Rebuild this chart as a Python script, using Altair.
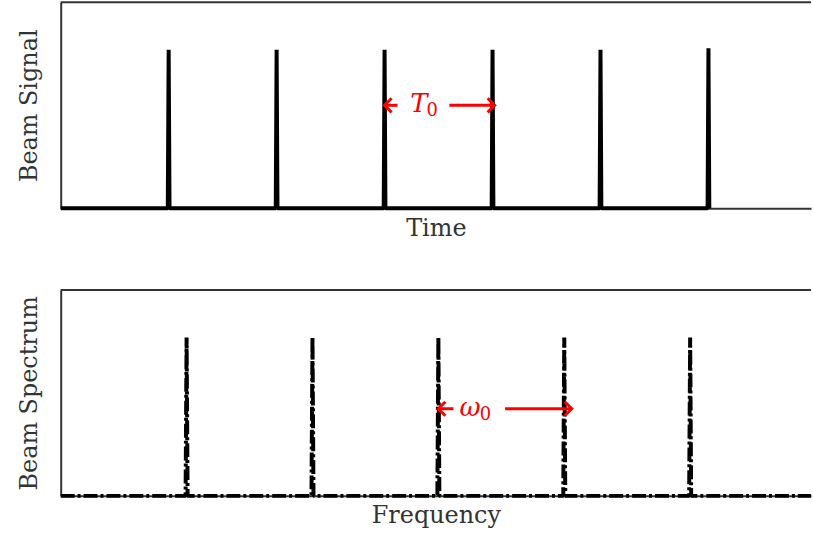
import altair as alt
import pandas as pd

# Beam signal: a train of short pulses, one per revolution
pulse_times = [1, 2, 3, 4, 5, 6]
pulse_heights = [1.0, 1.0, 1.0, 1.0, 1.0, 1.01]

# Beam spectrum: lines at the harmonics of the revolution frequency
harmonic_freqs = [1, 2, 3, 4, 5]
harmonic_heights = [1.0, 1.0, 1.0, 1.0, 1.0]
freq_end = 5.96

PEAK_HALF_WIDTH = 0.008

# period / frequency annotations (data coordinates)
t_arrow_y = 0.65
t_arrow_left = [3.0, 3.12]
t_arrow_right = [3.60, 4.02]
t_label_x = 3.38

w_arrow_y = 0.55
w_arrow_left = [3.0, 3.12]
w_arrow_right = [3.53, 4.06]
w_label_x = 3.32

W, H = 754, 207
RED = "#ff0000"
FONT = "DejaVu Serif"


def peak_line(centers, heights, end=None):
    rows = [(0.0, 0.0)]
    for c, h in zip(centers, heights):
        rows += [(c - PEAK_HALF_WIDTH, 0.0), (c, h), (c + PEAK_HALF_WIDTH, 0.0)]
    if end is not None and end > rows[-1][0]:
        rows.append((end, 0.0))
    return pd.DataFrame(rows, columns=["x", "y"])


def annotation(y, left, right, label_x, letter, sub, xscale, yscale):
    seg = pd.DataFrame({"x": [left[0], right[0]], "x2": [left[1], right[1]], "y": [y, y]})
    rules = alt.Chart(seg).mark_rule(color=RED, strokeWidth=3).encode(
        x=alt.X("x:Q", scale=xscale), x2="x2:Q", y=alt.Y("y:Q", scale=yscale)
    )
    heads = pd.DataFrame({"x": [left[0], right[1]], "y": [y, y], "d": ["l", "r"]})
    head_l = alt.Chart(heads[heads.d == "l"]).mark_point(
        shape="M1,-1L0,0L1,1", size=200, filled=False, stroke=RED, strokeWidth=3, opacity=1
    ).encode(x=alt.X("x:Q", scale=xscale), y=alt.Y("y:Q", scale=yscale))
    head_r = alt.Chart(heads[heads.d == "r"]).mark_point(
        shape="M-1,-1L0,0L-1,1", size=200, filled=False, stroke=RED, strokeWidth=3, opacity=1
    ).encode(x=alt.X("x:Q", scale=xscale), y=alt.Y("y:Q", scale=yscale))
    lab = pd.DataFrame({"x": [label_x], "y": [y], "t": [letter], "s": [sub]})
    main = alt.Chart(lab).mark_text(
        font=FONT, fontSize=26, fontStyle="italic", color=RED, align="right", baseline="middle", dx=2, dy=-1
    ).encode(x=alt.X("x:Q", scale=xscale), y=alt.Y("y:Q", scale=yscale), text="t:N")
    subt = alt.Chart(lab).mark_text(
        font=FONT, fontSize=18, color=RED, align="left", baseline="middle", dx=1, dy=6
    ).encode(x=alt.X("x:Q", scale=xscale), y=alt.Y("y:Q", scale=yscale), text="s:N")
    return [rules, head_l, head_r, main, subt]


def frame_top():
    return alt.Chart(pd.DataFrame({"a": [0]})).mark_rule(color="#333", strokeWidth=2).encode(
        x=alt.value(0), x2=alt.value(W), y=alt.value(0)
    )


# top panel
t_scale = alt.Scale(domain=[0, 6.95], nice=False, zero=False)
sig_y = alt.Scale(domain=[0, 1.3], nice=False)
sig = alt.Chart(peak_line(pulse_times, pulse_heights)).mark_line(
    color="black", strokeWidth=4, strokeJoin="bevel"
).encode(
    x=alt.X("x:Q", scale=t_scale, axis=alt.Axis(title="Time", titlePadding=8)),
    y=alt.Y("y:Q", scale=sig_y, axis=alt.Axis(title="Beam Signal", titlePadding=19)),
)
top = alt.layer(
    frame_top(), sig, *annotation(t_arrow_y, t_arrow_left, t_arrow_right, t_label_x, "T", "0", t_scale, sig_y)
).properties(width=W, height=H)

# bottom panel
f_scale = alt.Scale(domain=[0, 5.96], nice=False, zero=False)
spec_y = alt.Scale(domain=[0, 1.3], nice=False)
spec = alt.Chart(peak_line(harmonic_freqs, harmonic_heights, freq_end)).mark_line(
    color="black", strokeWidth=4, strokeJoin="bevel", strokeDash=[14, 3, 3, 3]
).encode(
    x=alt.X("x:Q", scale=f_scale, axis=alt.Axis(title="Frequency", titlePadding=8)),
    y=alt.Y("y:Q", scale=spec_y, axis=alt.Axis(title="Beam Spectrum", titlePadding=19)),
)
bottom = alt.layer(
    frame_top(), spec, *annotation(w_arrow_y, w_arrow_left, w_arrow_right, w_label_x, "ω", "0", f_scale, spec_y)
).properties(width=W, height=H)

chart = alt.vconcat(top, bottom, spacing=49).properties(
    padding={"left": 18, "top": 0, "right": 0, "bottom": 4}
).configure_view(stroke=None).configure_axis(
    domainColor="#333", domainWidth=2, ticks=False, labels=False, grid=False,
    titleFont=FONT, titleFontSize=24, titleFontWeight="normal", titleColor="#333",
)

chart.save("out.html", embed_options={"renderer": "svg", "actions": False})
